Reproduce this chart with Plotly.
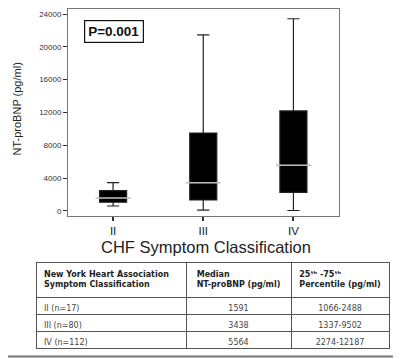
import plotly.graph_objects as go

# ---- data ----
categories = ["II", "III", "IV"]
n_patients = [17, 80, 112]
medians = [1591, 3438, 5564]
q1 = [1066, 1337, 2274]
q3 = [2488, 9502, 12187]
whisker_low = [610, 100, 60]
whisker_high = [3450, 21450, 23420]
y_ticks = [0, 4000, 8000, 12000, 16000, 20000, 24000]

W, H = 401, 359
OFF = 8  # the page body adds an 8px margin; compensate
FW, FH = W - OFF, H - OFF
FONT = "Liberation Sans, Arial, sans-serif"
TFONT = "DejaVu Sans, Liberation Sans, sans-serif"

def px_x(x):
    return min(1.0, max(0.0, (x - OFF) / FW))

def px_y(y):
    return min(1.0, max(0.0, 1 - (y - OFF) / FH))

fig = go.Figure()

fig.add_trace(go.Box(
    x=categories, q1=q1, median=medians, q3=q3,
    lowerfence=whisker_low, upperfence=whisker_high,
    width=0.3, whiskerwidth=0.45, boxpoints=False,
    fillcolor="#000000", line=dict(color="#222222", width=1.2),
    showlegend=False, hoverinfo="skip",
))

# light median line drawn over the black boxes
fig.add_trace(go.Scatter(
    x=categories, y=medians, mode="markers",
    marker=dict(symbol="line-ew", size=25,
                line=dict(color="#bdbdbd", width=1.5)),
    showlegend=False, hoverinfo="skip",
))

# table
row_labels = [f"{c} (n={n})" for c, n in zip(categories, n_patients)]
pct_text = [f"{a}-{b}" for a, b in zip(q1, q3)]
fig.add_trace(go.Table(
    domain=dict(x=[px_x(36), px_x(389)], y=[px_y(351), px_y(262)]),
    columnwidth=[150, 105, 98],
    header=dict(
        values=["<b>New York Heart Association<br>Symptom Classification</b>",
                "<b>Median<br>NT-proBNP (pg/ml)</b>",
                "<b>25ᵗʰ -75ᵗʰ<br>Percentile (pg/ml)</b>"],
        align=["left", "center", "center"],
        fill_color="white",
        line=dict(color="#555555", width=1),
        font=dict(family=TFONT, size=8, color="#222222"),
        height=34,
    ),
    cells=dict(
        values=[row_labels, [str(m) for m in medians], pct_text],
        align=["left", "center", "center"],
        fill_color="white",
        line=dict(color="#555555", width=1),
        font=dict(family=TFONT, size=8, color="#444444"),
        height=17,
    ),
))

fig.update_layout(
    width=FW, height=FH,
    margin=dict(l=0, r=0, t=0, b=0),
    paper_bgcolor="white", plot_bgcolor="white",
    font=dict(family=FONT, color="#222222"),
    xaxis=dict(
        domain=[px_x(68), px_x(338.5)],
        range=[-0.5, 2.5],
        showline=True, linecolor="#777777", linewidth=1, mirror=True,
        ticks="outside", ticklen=4, tickcolor="#333333", tickwidth=1.5,
        tickfont=dict(size=11.5, color="#222222"),
        showgrid=False, zeroline=False,
    ),
    yaxis=dict(
        domain=[px_y(216), px_y(8.5)],
        range=[-610, 24670],
        tickvals=y_ticks, ticktext=[str(v) for v in y_ticks],
        showline=True, linecolor="#777777", linewidth=1, mirror=True,
        ticks="outside", ticklen=4, tickcolor="#333333", tickwidth=1.2,
        tickfont=dict(size=8, color="#333333"),
        showgrid=False, zeroline=False,
    ),
    annotations=[
        dict(x=px_x(113.5), y=px_y(32), xref="paper", yref="paper",
             xanchor="center", yanchor="middle",
             text="<b>P=0.001</b>", showarrow=False,
             font=dict(size=13.5, color="#111111", family=FONT),
             bordercolor="#111111", borderwidth=1.2, borderpad=3,
             bgcolor="white"),
        dict(x=px_x(206), y=px_y(247), xref="paper", yref="paper",
             text="CHF Symptom Classification", showarrow=False,
             xanchor="center", yanchor="middle",
             font=dict(size=16.5, color="#222222", family=FONT)),
        dict(x=px_x(17), y=px_y(109.5), xref="paper", yref="paper",
             text="NT-proBNP (pg/ml)", showarrow=False, textangle=-90,
             xanchor="center", yanchor="middle",
             font=dict(size=11, color="#222222", family=FONT)),
    ],
    shapes=[
        dict(type="line", xref="paper", yref="paper",
             x0=px_x(400), x1=px_x(400), y0=0, y1=1,
             line=dict(color="#111111", width=2)),
        dict(type="line", xref="paper", yref="paper",
             x0=0, x1=px_x(399), y0=px_y(356.5), y1=px_y(356.5),
             line=dict(color="#777777", width=2)),
    ],
)

fig.write_html("out.html")
